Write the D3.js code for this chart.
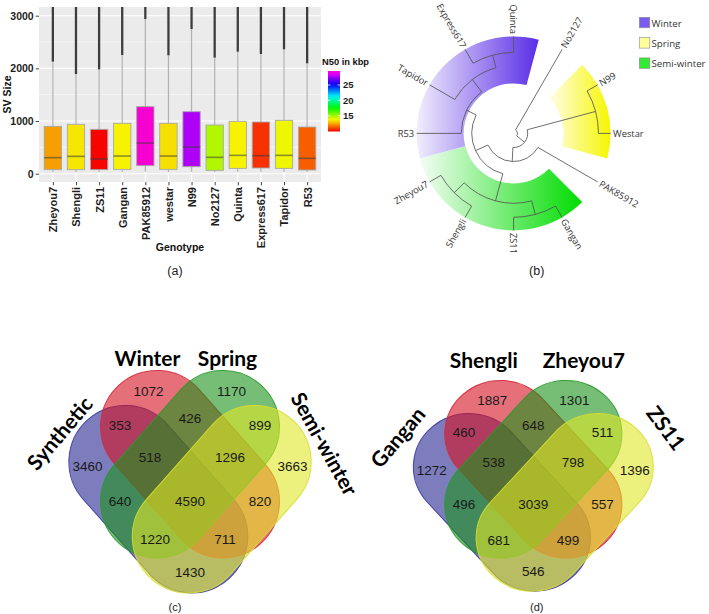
<!DOCTYPE html>
<html><head><meta charset="utf-8">
<script src="https://cdn.jsdelivr.net/npm/d3@7"></script>
<style>html,body{margin:0;padding:0;background:#fff}svg{display:block}</style>
</head><body>
<svg id="chart" width="709" height="614"></svg>
<script>
// ================= DATA =================
// Panel (a): SV size boxplots per genotype
const genotypes   = ["Zheyou7","Shengli","ZS11","Gangan","PAK85912","westar","N99","No2127","Quinta","Express617","Tapidor","R53"];
const whiskerLow  = [27,27,27,30,38,30,35,25,30,30,30,25];
const q1          = [76,76,76,82,152,82,133,63,101,108,101,70];
const medians     = [304,329,278,335,582,335,506,310,348,342,348,291];
const q3          = [899,937,842,956,1272,956,1177,924,994,981,1013,886];
const outlierMin  = [2127,1892,1981,2253,2937,2247,2747,2203,2316,2272,2361,2095];
const outlierMax  = [3400,3400,3400,3400,3400,3400,3400,3400,3400,3400,3400,3400];
const n50         = [12.3,13.4,9.9,13.6,29.5,13.3,27.8,14.75,13.6,10.6,13.8,11.3];
const yTicks      = [0,1000,2000,3000];
const n50Ticks    = [15,20,25];
const n50Range    = [9.85,29.56];

// Panel (b): dendrogram (h = relative node depth, leaves at 1)
const treeData = {h:0.04, children:[
  {name:"No2127"},
  {h:0.145, children:[
    {h:0.875, children:[{name:"N99"},{name:"Westar"}]},
    {h:0.29, children:[
      {name:"PAK85912"},
      {h:0.43, children:[
        {h:0.72, children:[
          {h:0.865, children:[{name:"Gangan"},{name:"ZS11"}]},
          {h:0.865, children:[{name:"Shengli"},{name:"Zheyou7"}]}
        ]},
        {h:0.54, children:[
          {name:"R53"},
          {h:0.70, children:[
            {name:"Tapidor"},
            {h:0.835, children:[{name:"Express617"},{name:"Quinta"}]}
          ]}
        ]}
      ]}
    ]}
  ]}
]};
const groups       = ["Winter","Spring","Semi-winter"];
const groupMembers = [["R53","Tapidor","Express617","Quinta"],["N99","Westar"],["Gangan","ZS11","Shengli","Zheyou7"]];
const groupDark    = ["#5a2de6","#f6f600","#00dc00"];
const groupLight   = ["#f1eefd","#fffee8","#f4fdf4"];
const groupSwatch  = ["#7a5cf3","#ffff9c","#33ea33"];

// Panels (c),(d): 4-set Venn diagrams; region keys A..D = blue, red, green, yellow set
const regionKeys  = ["A","B","C","D","AB","AC","AD","BC","BD","CD","ABC","ABD","ACD","BCD","ABCD"];
const vennCSets   = ["Synthetic","Winter","Spring","Semi-winter"];
const vennCCounts = [3460,1072,1170,3663,353,640,1430,426,820,899,518,711,1220,1296,4590];
const vennDSets   = ["Gangan","Shengli","Zheyou7","ZS11"];
const vennDCounts = [1272,1887,1301,1396,460,496,546,648,557,511,538,499,681,798,3039];

// ================= LAYOUT / STYLE =================
const svg = d3.select("#chart");
svg.append("rect").attr("width",709).attr("height",614).attr("fill","#fff");
const defs = svg.append("defs");

// ---------- Panel (a) ----------
const plotL=39, plotR=321, plotT=7, plotB=182;
const x = d3.scalePoint().domain(genotypes).range([plotL,plotR]).padding(0.6);
const y = d3.scaleLinear().domain([-158,3165]).range([plotB,plotT]);
const hue = d3.scaleLinear().domain(n50Range).range([0,310]);
const n50Color = v => d3.hsl(hue(v),1,0.485).formatHex();
const bw = x.step()*0.75;

const ga = svg.append("g");
ga.append("rect").attr("x",plotL).attr("y",plotT).attr("width",plotR-plotL).attr("height",plotB-plotT).attr("fill","#EBEBEB");
defs.append("clipPath").attr("id","clipA").append("rect")
  .attr("x",plotL).attr("y",plotT).attr("width",plotR-plotL).attr("height",plotB-plotT);
const minorTicks = d3.pairs(yTicks).map(p=>(p[0]+p[1])/2);
ga.selectAll(".gmin").data(minorTicks).join("line")
  .attr("x1",plotL).attr("x2",plotR).attr("y1",d=>y(d)).attr("y2",d=>y(d))
  .attr("stroke","#fff").attr("stroke-width",0.55);
ga.selectAll(".gmaj").data(yTicks).join("line")
  .attr("x1",plotL).attr("x2",plotR).attr("y1",d=>y(d)).attr("y2",d=>y(d))
  .attr("stroke","#fff").attr("stroke-width",1.1);
ga.selectAll(".gv").data(genotypes).join("line")
  .attr("x1",d=>x(d)).attr("x2",d=>x(d)).attr("y1",plotT).attr("y2",plotB)
  .attr("stroke","#fff").attr("stroke-width",1.1);

const boxes = ga.append("g").attr("clip-path","url(#clipA)");
genotypes.forEach((gname,i)=>{
  const cx = x(gname);
  const g = boxes.append("g");
  g.append("line").attr("x1",cx).attr("x2",cx).attr("y1",y(whiskerLow[i])).attr("y2",y(q1[i]))
    .attr("stroke","#b3b3b3").attr("stroke-width",1.3);
  g.append("line").attr("x1",cx).attr("x2",cx).attr("y1",y(q3[i])).attr("y2",y(outlierMin[i]))
    .attr("stroke","#b3b3b3").attr("stroke-width",1.3);
  g.append("line").attr("x1",cx).attr("x2",cx).attr("y1",y(outlierMin[i])).attr("y2",y(outlierMax[i]))
    .attr("stroke","#3d3d3d").attr("stroke-width",2.3);
  g.append("rect").attr("x",cx-bw/2).attr("y",y(q3[i])).attr("width",bw).attr("height",y(q1[i])-y(q3[i]))
    .attr("fill",n50Color(n50[i])).attr("stroke","#a8a8a8").attr("stroke-width",0.9);
  g.append("line").attr("x1",cx-bw/2).attr("x2",cx+bw/2).attr("y1",y(medians[i])).attr("y2",y(medians[i]))
    .attr("stroke","#3a3a3a").attr("stroke-opacity",0.55).attr("stroke-width",1.6);
});

const axisFont = "'Liberation Sans', Arial, sans-serif";
const yAxis = ga.append("g").attr("transform",`translate(${plotL},0)`)
  .call(d3.axisLeft(y).tickValues(yTicks).tickSize(3.3).tickPadding(2).tickFormat(d3.format("d")));
yAxis.select(".domain").remove();
yAxis.selectAll("line").attr("stroke","#444");
yAxis.selectAll("text").attr("font-family",axisFont).attr("font-weight","bold").attr("font-size",10.5).attr("fill","#1e1e1e");
const xAxis = ga.append("g").attr("transform",`translate(0,${plotB})`)
  .call(d3.axisBottom(x).tickSize(3.3).tickPadding(2));
xAxis.select(".domain").remove();
xAxis.selectAll("line").attr("stroke","#444");
xAxis.selectAll("text").attr("font-family",axisFont).attr("font-weight","bold").attr("font-size",11).attr("fill","#1e1e1e")
  .attr("transform","rotate(-90)").attr("text-anchor","end").attr("x",-5).attr("y",0).attr("dy","0.36em");
ga.append("text").attr("transform",`translate(10.5,${(plotT+plotB)/2}) rotate(-90)`).attr("text-anchor","middle")
  .attr("font-family",axisFont).attr("font-weight","bold").attr("font-size",10.5).attr("fill","#111").text("SV Size");
ga.append("text").attr("x",(plotL+plotR)/2).attr("y",250.5).attr("text-anchor","middle")
  .attr("font-family",axisFont).attr("font-weight","bold").attr("font-size",10.5).attr("fill","#111").text("Genotype");

// colour bar legend
const cbX=328, cbW=12, cbT=71, cbB=131.5;
const cbY = d3.scaleLinear().domain(n50Range).range([cbB,cbT]);
const grad = defs.append("linearGradient").attr("id","n50grad").attr("x1",0).attr("y1",1).attr("x2",0).attr("y2",0);
d3.range(0,1.0001,0.05).forEach(t=>{
  grad.append("stop").attr("offset",t).attr("stop-color",n50Color(n50Range[0]+t*(n50Range[1]-n50Range[0])));
});
ga.append("text").attr("x",322).attr("y",64.5).attr("font-family",axisFont).attr("font-weight","bold")
  .attr("font-size",9.3).attr("fill","#111").text("N50 in kbp");
ga.append("rect").attr("x",cbX).attr("y",cbT).attr("width",cbW).attr("height",cbB-cbT).attr("fill","url(#n50grad)");
n50Ticks.forEach(t=>{
  ga.append("line").attr("x1",cbX).attr("x2",cbX+2.4).attr("y1",cbY(t)).attr("y2",cbY(t)).attr("stroke","#fff").attr("stroke-width",0.8);
  ga.append("line").attr("x1",cbX+cbW-2.4).attr("x2",cbX+cbW).attr("y1",cbY(t)).attr("y2",cbY(t)).attr("stroke","#fff").attr("stroke-width",0.8);
  ga.append("text").attr("x",343).attr("y",cbY(t)).attr("dy","0.36em").attr("font-family",axisFont).attr("font-weight","bold")
    .attr("font-size",9.5).attr("fill","#1e1e1e").text(t);
});

// ---------- Panel (b) ----------
const tcx=513.6, tcy=133.4, Rleaf=97, Rin=50;
const gb = svg.append("g");
const root = d3.hierarchy(treeData);
d3.cluster().size([360,1]).separation(()=>1)(root);
const step = 360/root.leaves().length;
root.each(n=>{ n.ang = n.x + step/2; n.r = (n.children ? n.data.h : 1)*Rleaf; });
const pt = (a,r)=>{const t=a*Math.PI/180; return [tcx+r*Math.sin(t), tcy-r*Math.cos(t)];};
const leafAng = {}; root.leaves().forEach(l=>leafAng[l.data.name]=l.ang);

// group bands
const arcGen = d3.arc();
groups.forEach((gname,i)=>{
  const gid = "bandgrad"+i;
  const lg = defs.append("linearGradient").attr("id",gid).attr("x1",0).attr("y1",0).attr("x2",1).attr("y2",0);
  lg.append("stop").attr("offset",0).attr("stop-color",groupLight[i]);
  lg.append("stop").attr("offset",1).attr("stop-color",groupDark[i]);
  const angs = groupMembers[i].map(m=>leafAng[m]);
  const a0 = (d3.min(angs)-step/2)*Math.PI/180, a1=(d3.max(angs)+step/2)*Math.PI/180;
  gb.append("path").attr("transform",`translate(${tcx},${tcy})`)
    .attr("d",arcGen({innerRadius:Rin,outerRadius:Rleaf,startAngle:a0,endAngle:a1}))
    .attr("fill",`url(#${gid})`);
});

// links (radial elbows)
gb.selectAll(".lnk").data(root.links()).join("path")
  .attr("fill","none").attr("stroke","#555").attr("stroke-width",0.85)
  .attr("d",d=>{
    const s=d.source, t=d.target;
    const p0=pt(t.ang,t.r), p1=pt(t.ang,s.r), p2=pt(s.ang,s.r);
    const sweep = s.ang>t.ang?1:0;
    return `M${p0}L${p1}A${s.r},${s.r} 0 0 ${sweep} ${p2}`;
  });
// leaf labels
const treeFont = "'Open Sans', 'DejaVu Sans', sans-serif";
gb.selectAll(".lbl").data(root.leaves()).join("text")
  .attr("transform",d=>{const p=pt(d.ang,Rleaf+2.5); const rot = d.ang<=180 ? d.ang-90 : d.ang+90; return `translate(${p}) rotate(${rot})`;})
  .attr("text-anchor",d=>d.ang<=180?"start":"end").attr("dy","0.35em")
  .attr("font-family",treeFont).attr("font-size",9.3).attr("fill","#333").text(d=>d.data.name);
// legend
groups.forEach((gname,i)=>{
  const yy = 17.3 + i*20.3;
  gb.append("rect").attr("x",639.3).attr("y",yy).attr("width",10.5).attr("height",10.5)
    .attr("fill",groupSwatch[i]).attr("stroke","#8c8c8c").attr("stroke-width",0.6);
  gb.append("text").attr("x",651.5).attr("y",yy+9.3).attr("font-family",treeFont).attr("font-size",9.7).attr("fill","#333").text(gname);
});

// ---------- Panels (c),(d): Venn (rotated capsules) ----------
const vennFill   = ["#262693","#d41121","#1b931b","#dfe625"];
const vennStroke = ["#3a3aa0","#d42a3a","#2a9a2a","#d8de30"];
const capR=56.3, capHalf=50, capRot=48.5;
const shapeCentre = [[-31.7,35,capRot],[0,0,capRot],[0,0,-capRot],[31.7,35,-capRot]];
const regionPos = {A:[-102.5,1.5],B:[-41.5,-73],C:[41.5,-73],D:[102.5,1.5],AB:[-70,-39],BC:[0,-46],CD:[70,-39],
  ABC:[-40,-7.5],BCD:[40,-7.5],AC:[-70,37],ABCD:[0,36.8],BD:[70,37],ACD:[-35,75],ABD:[35,75],AD:[0,107.5]};
const vennNumFont = "'Liberation Sans', Arial, sans-serif";
const vennTitleFont = "Lato, 'Open Sans', sans-serif";

function drawVenn(cx, cy, sx, sy, sets, counts, titlePos){
  const g = svg.append("g");
  const sg = g.append("g").attr("transform",`translate(${cx},${cy}) scale(${sx},${sy})`);
  shapeCentre.forEach((c,i)=>{
    sg.append("rect").attr("transform",`translate(${c[0]},${c[1]}) rotate(${c[2]})`)
      .attr("x",-(capHalf+capR)).attr("y",-capR).attr("width",2*(capHalf+capR)).attr("height",2*capR)
      .attr("rx",capR).attr("ry",capR).attr("fill",vennFill[i]).attr("fill-opacity",0.6)
      .attr("stroke",vennStroke[i]).attr("stroke-width",1/Math.min(sx,sy)).attr("stroke-opacity",0.9);
  });
  regionKeys.forEach((k,i)=>{
    const p = regionPos[k];
    g.append("text").attr("x",cx+p[0]*sx).attr("y",cy+p[1]*sy).attr("dy","0.36em").attr("text-anchor","middle")
      .attr("font-family",vennNumFont).attr("font-size",13.5).attr("fill","#1a1a1a").text(counts[i]);
  });
  sets.forEach((s,i)=>{
    const tp = titlePos[i];
    g.append("text").attr("transform",`translate(${tp[0]},${tp[1]}) rotate(${tp[2]})`)
      .attr("text-anchor","middle").attr("dy", tp[3]).attr("font-family",vennTitleFont).attr("font-weight","bold")
      .attr("font-size",21).attr("fill","#000").text(s);
  });
}
drawVenn(190,464.2,1,1,vennCSets,vennCCounts,
  [[60,433.3,-49.7,"0.35em"],[147.5,366,0,"0"],[227.5,366,0,"0"],[324,444,61,"0.35em"]]);
drawVenn(533.3,469.2,0.99,0.947,vennDSets,vennDCounts,
  [[398,437.5,-49.7,"0.35em"],[483.8,368,0,"0"],[583.8,368,0,"0"],[665.8,428.3,53,"0.35em"]]);

// captions
const capFont = "'Liberation Sans', Arial, sans-serif";
[["(a)",175,274.5,12.5],["(b)",536.7,274.5,12.5],["(c)",175,611,11],["(d)",536.7,611,11]].forEach(c=>{
  svg.append("text").attr("x",c[1]).attr("y",c[2]).attr("text-anchor","middle").attr("font-family",capFont)
    .attr("font-size",c[3]).attr("fill","#222").text(c[0]);
});
</script>
</body></html>
